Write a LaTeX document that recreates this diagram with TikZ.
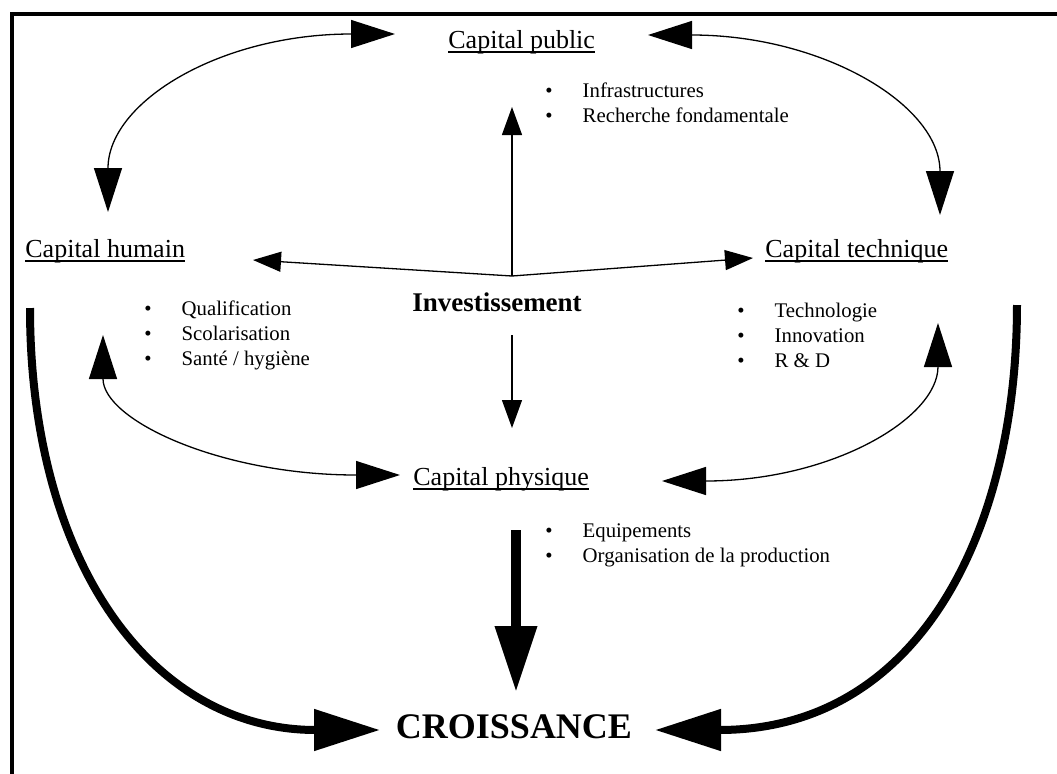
\documentclass[tikz,border=0pt]{standalone}
\usepackage{fontspec}
\setmainfont{Liberation Serif}
\usetikzlibrary{arrows.meta,calc}
% underline that sits close to the baseline
\newcommand\undl[1]{\setbox0\hbox{#1}\rlap{\rule[-2.3pt]{\wd0}{0.6pt}}\box0}
\newcommand\blist[1]{\begin{tabular}[t]{@{}l@{\hspace{15pt}}l@{}}#1\end{tabular}}
\begin{document}
\begin{tikzpicture}[x=0.5pt,y=-0.5pt,
  captitle/.style={inner sep=0pt, font=\fontsize{13}{15}\selectfont},
  lst/.style={inner sep=0pt, anchor=base west, font=\fontsize{10.4}{12.5}\selectfont},
  dbl/.style={line width=0.65pt, {Triangle[length=22pt,width=14pt]}-{Triangle[length=22pt,width=14pt]}},
  onearrow/.style={line width=0.65pt, -{Triangle[length=14pt,width=10pt]}},
  heavyarrow/.style={line width=4pt, -{Triangle[length=33pt,width=20pt]}},
]
\useasboundingbox (0,0) rectangle (1057,773);
\fill[white] (0,0) rectangle (1057,773);

% frame
\begin{scope}
  \clip (0,0) rectangle (1057,773);
  \draw[line width=2pt] (1100,13.5) -| (11.5,800);
\end{scope}

% headings
\node[captitle, anchor=base west] (pub)  at (448,48)  {\undl{Capital public}};
\node[captitle, anchor=base west] (hum)  at (25,257)  {\undl{Capital humain}};
\node[captitle, anchor=base west] (tech) at (765,257) {\undl{Capital technique}};
\node[captitle, anchor=base west] (phy)  at (413,485) {\undl{Capital physique}};
\node[inner sep=0pt, anchor=base, font=\fontsize{13.5}{16}\selectfont\bfseries] (inv) at (497,311) {Investissement};
\node[inner sep=0pt, anchor=base, font=\fontsize{18}{21}\selectfont\bfseries] (cro) at (514,738) {CROISSANCE};

% bullet lists
\node[lst] (publ)  at (545,97)  {\blist{\textbullet & Infrastructures\\ \textbullet & Recherche fondamentale}};
\node[lst] (huml)  at (144,315) {\blist{\textbullet & Qualification\\ \textbullet & Scolarisation\\ \textbullet & Santé / hygiène}};
\node[lst] (techl) at (737,317) {\blist{\textbullet & Technologie\\ \textbullet & Innovation\\ \textbullet & R \& D}};
\node[lst] (phyl)  at (545,537) {\blist{\textbullet & Equipements\\ \textbullet & Organisation de la production}};

% exchanges between the capitals
\draw[dbl] ($(hum.base west)+(83,-45)$) .. controls +(0,-110) and +(-175,0) .. ($(pub.base west)+(-53,-14)$);
\draw[dbl] ($(tech.base west)+(175,-42)$) .. controls +(0,-110) and +(175,0) .. ($(pub.base west)+(200,-13)$);
\draw[dbl] ($(hum.base west)+(78,78)$) .. controls +(0,85) and +(-180,0) .. ($(phy.base west)+(-13,-10)$);
\draw[dbl] ($(tech.base west)+(173,66)$) .. controls +(0,95) and +(170,0) .. ($(phy.base west)+(249,-4)$);

% investment feeds every capital
\coordinate (hub) at ($(inv.base)+(15,-35)$);
\draw[onearrow] (hub) -- ($(pub.base west)+(64,59)$);
\draw[onearrow] (hub) -- ($(hum.base west)+(228,3)$);
\draw[onearrow] (hub) -- ($(tech.base west)+(-12,1)$);
\draw[onearrow] ($(inv.base)+(15,24)$) -- ($(phy.base west)+(99,-57)$);

% growth
\draw[heavyarrow, line width=5pt] ($(phy.base west)+(103,45)$) -- ($(cro.base)+(2,-46)$);
\draw[heavyarrow] ($(hum.base west)+(5,51)$) .. controls +(0,252) and +(-230,0) .. ($(cro.base)+(-134,-8)$);
\draw[heavyarrow] ($(tech.base west)+(252,48)$) .. controls +(0,225) and +(265,0) .. ($(cro.base)+(141,-8)$);
\end{tikzpicture}
\end{document}
